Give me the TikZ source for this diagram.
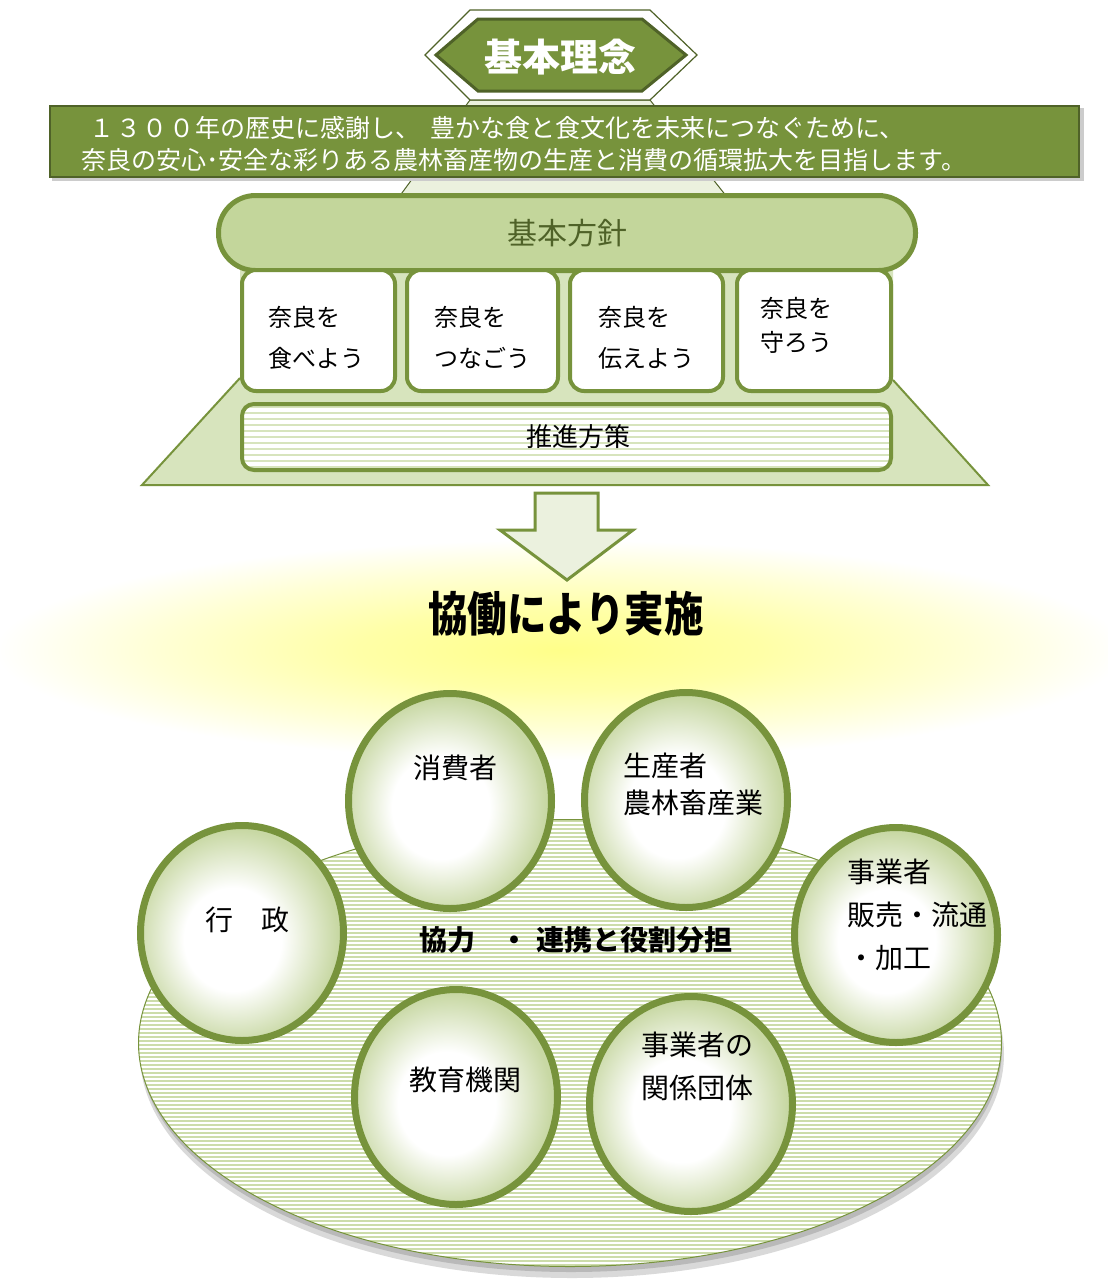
\documentclass[tikz,border=0pt]{standalone}
\usepackage{fontspec}
\usepackage{graphicx}
\setmainfont{Noto Sans CJK JP}
\usetikzlibrary{shapes.geometric}
\definecolor{olive}{HTML}{77933C}
\definecolor{dolive}{HTML}{4F6228}
\definecolor{lgreen}{HTML}{D7E4BD}
\definecolor{llgreen}{HTML}{EBF1DE}
\definecolor{mgreen}{HTML}{C3D69B}
\definecolor{glowy}{HTML}{FFFF8A}
\definecolor{circg}{HTML}{C8D8A4}
\pgfdeclareradialshading{glowsh}{\pgfpoint{0bp}{0bp}}{color(0bp)=(glowy); color(9bp)=(glowy!75!white); color(18bp)=(glowy!35!white); color(25bp)=(white); color(50bp)=(white)}
\pgfdeclareradialshading{orbsh}{\pgfpoint{-3bp}{-2bp}}{color(0bp)=(white); color(12bp)=(white); color(25bp)=(circg); color(50bp)=(circg)}
\begin{document}
\begin{tikzpicture}[x=1pt,y=-1pt,
  boxst/.style={draw=olive, line width=4pt, fill=white, rounded corners=14pt, minimum height=121pt, inner sep=0pt},
  boxtxt/.style={font=\fontsize{24}{41}\selectfont, align=left, inner sep=0pt, anchor=west},
  orbst/.style={ellipse, draw=olive, line width=7pt, shade, shading=orbsh, minimum width=203pt, minimum height=215pt, inner sep=0pt},
  lbl/.style={font=\fontsize{28}{37}\selectfont, align=left, inner sep=0pt},
  bartxt/.style={anchor=west, text=white, font=\fontsize{25}{25}\selectfont, inner sep=0pt}]
\useasboundingbox (0,0) rectangle (1108,1280);
\fill[white] (0,0) rectangle (1108,1280);
% glow
\shade[shading=glowsh] (560,650) ellipse [x radius=565, y radius=110];
% trapezoid below banner
\filldraw[fill=llgreen, draw=dolive, line width=1pt] (470,100) -- (650,100) -- (727,197) -- (399,197) -- cycle;
% hexagon banner
\filldraw[fill=white, draw=dolive, line width=1.2pt] (425,55) -- (470,10) -- (650,10) -- (697,55) -- (650,100) -- (470,100) -- cycle;
\filldraw[fill=olive, draw=dolive, line width=3pt] (436,55) -- (478,19) -- (642,19) -- (686,55) -- (642,91) -- (478,91) -- cycle;
\node[font=\bfseries\fontsize{38}{38}\selectfont, text=white] (rinen) at (560,57) {基本理念};
% text bar
\fill[gray!40] (52,108) rectangle (1084,181);
\node[draw=dolive, line width=2pt, fill=olive, minimum width=1029pt, minimum height=71pt, inner sep=0pt] (bar) at (564.5,141.5) {};
\node[bartxt] (l1) at (89,128) {\makebox[26.5pt]{１}\makebox[26.5pt]{３}\makebox[26.5pt]{０}\makebox[26.5pt]{０}年の歴史に感謝し、\hspace{10pt}豊かな食と食文化を未来につなぐために、};
\node[bartxt] (l2) at (81,160) {奈良の安心･安全な彩りある農林畜産物の生産と消費の循環拡大を目指します。};
% big trapezoid
\fill[lgreen] (142,485) -- (240,378) -- (240,262) -- (893,262) -- (893,380) -- (988,485) -- cycle;
\draw[olive, line width=2pt] (240,378) -- (142,485) -- (988,485) -- (893,380);
% header
\node[draw=olive, line width=5pt, fill=mgreen, rounded corners=37pt, minimum width=697pt, minimum height=75pt, inner sep=0pt, text=dolive, font=\fontsize{30}{30}\selectfont] (hoshin) at (567,233) {基本方針};
% boxes
\node[boxst, minimum width=153pt] (b1) at (318.5,330.5) {};
\node[boxst, minimum width=151pt] (b2) at (482.5,330.5) {};
\node[boxst, minimum width=153pt] (b3) at (646.5,330.5) {};
\node[boxst, minimum width=154pt] (b4) at (814,330.5) {};
\node[boxtxt] (bt1) at (268,337.5) {奈良を\\食べよう};
\node[boxtxt] (bt2) at (434,337.5) {奈良を\\つなごう};
\node[boxtxt] (bt3) at (598,337.5) {奈良を\\伝えよう};
\node[boxtxt, font=\fontsize{24}{34}\selectfont] (bt4) at (760,325) {奈良を\\守ろう};
% suishin bar
\node[draw=olive, line width=4pt, fill=white, rounded corners=12pt, minimum width=649pt, minimum height=66pt, inner sep=0pt,
  path picture={\foreach \k in {-30,-24,...,36} \draw[lgreen, line width=2.2pt] (-340,\k) -- (340,\k);}] (suishin) at (566.5,437) {};
\node[font=\fontsize{26}{26}\selectfont] (tsuishin) at (578,437) {推進方策};
% arrow
\filldraw[fill=llgreen, draw=olive, line width=3pt, line join=miter] (535,493) -- (598,493) -- (598,530) -- (633,530) -- (567,580) -- (500,530) -- (535,530) -- cycle;
% title
\node (kyodo) at (566,614) {\fontsize{47}{47}\selectfont\bfseries\scalebox{0.84}[1]{協働により実施}};
% base
\fill[gray!30] (572,1054) ellipse [x radius=432, y radius=224];
\fill[gray!55] (571,1049) ellipse [x radius=431, y radius=223];
\node[ellipse, draw=olive, line width=1pt, fill=white, minimum width=863pt, minimum height=447pt, inner sep=0pt,
  path picture={\foreach \k in {-226,-222,...,228} \draw[mgreen!85, line width=1.9pt] (-440,\k) -- (440,\k);}] (base) at (570,1043) {};
\node[font=\bfseries\fontsize{28}{28}\selectfont] (kyoryoku) at (576,940) {協力\hspace{26pt}・\hspace{8pt}連携と役割分担};
% circles
\node[orbst] (c1) at (450,801) {};
\node[orbst] (c2) at (686,800) {};
\node[orbst] (c3) at (242,933) {};
\node[orbst] (c4) at (896,935) {};
\node[orbst] (c5) at (456,1097) {};
\node[orbst] (c6) at (691,1104) {};
\node[lbl] (t1) at (455,768) {消費者};
\node[lbl, anchor=west] (t2) at (623,784.5) {生産者\\農林畜産業};
\node[lbl] (t3) at (247,920) {行　政};
\node[lbl, anchor=west, font=\fontsize{28}{43}\selectfont] (t4) at (847,915) {事業者\\販売・流通\\・加工};
\node[lbl] (t5) at (465,1080) {教育機関};
\node[lbl, anchor=west, font=\fontsize{28}{43}\selectfont] (t6) at (641,1066.5) {事業者の\\関係団体};
\end{tikzpicture}
\end{document}
